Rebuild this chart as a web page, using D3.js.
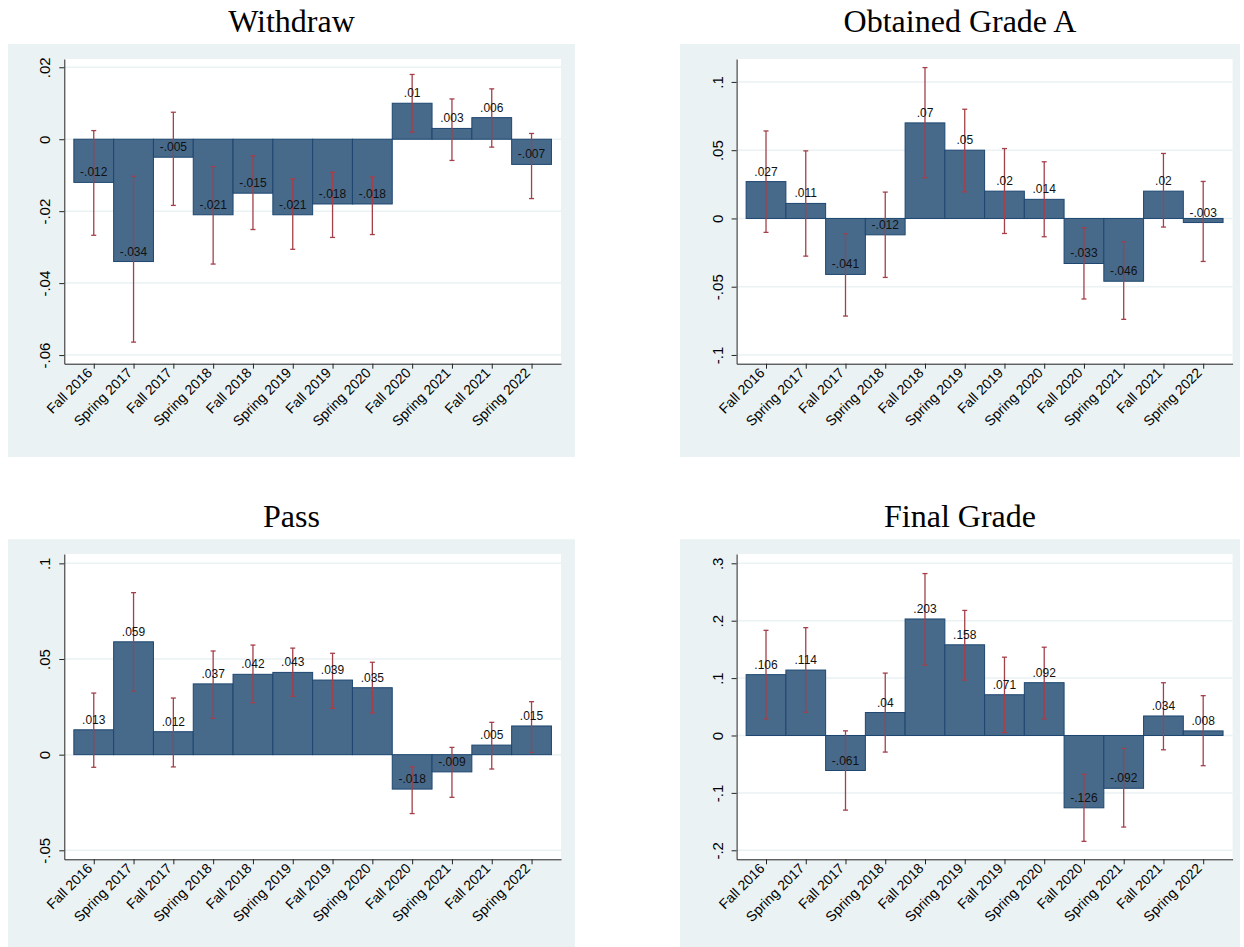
<!DOCTYPE html>
<html>
<head>
<meta charset="utf-8">
<script src="https://cdn.jsdelivr.net/npm/d3@7"></script>
<style>
  body { margin: 0; background: #fff; }
  svg { display: block; }
</style>
</head>
<body>
<div id="chart"></div>
<script>
const terms = ['Fall 2016', 'Spring 2017', 'Fall 2017', 'Spring 2018', 'Fall 2018', 'Spring 2019',
  'Fall 2019', 'Spring 2020', 'Fall 2020', 'Spring 2021', 'Fall 2021', 'Spring 2022'];

// Withdraw
const withdrawEst = [-0.012, -0.034, -0.005, -0.021, -0.015, -0.021, -0.018, -0.018, 0.01, 0.003, 0.006, -0.007];
const withdrawHi = [0.0024, -0.0103, 0.0075, -0.0076, -0.0046, -0.0110, -0.0092, -0.0105, 0.0180, 0.0112, 0.0140, 0.0016];
const withdrawLo = [-0.0267, -0.0564, -0.0184, -0.0347, -0.0251, -0.0306, -0.0273, -0.0265, 0.0020, -0.0059, -0.0022, -0.0165];
const withdrawTicks = [0.02, 0, -0.02, -0.04, -0.06];

// Obtained Grade A
const gradeAEst = [0.027, 0.011, -0.041, -0.012, 0.07, 0.05, 0.02, 0.014, -0.033, -0.046, 0.02, -0.003];
const gradeAHi = [0.0641, 0.0495, -0.0112, 0.0193, 0.1105, 0.0800, 0.0512, 0.0415, -0.0068, -0.0171, 0.0476, 0.0271];
const gradeALo = [-0.0102, -0.0276, -0.0715, -0.0432, 0.0298, 0.0195, -0.0110, -0.0134, -0.0590, -0.0739, -0.0063, -0.0315];
const gradeATicks = [0.1, 0.05, 0, -0.05, -0.1];

// Pass
const passEst = [0.013, 0.059, 0.012, 0.037, 0.042, 0.043, 0.039, 0.035, -0.018, -0.009, 0.005, 0.015];
const passHi = [0.0322, 0.0847, 0.0296, 0.0542, 0.0573, 0.0557, 0.0530, 0.0483, -0.0064, 0.0038, 0.0169, 0.0277];
const passLo = [-0.0066, 0.0333, -0.0064, 0.0190, 0.0272, 0.0305, 0.0242, 0.0218, -0.0308, -0.0223, -0.0075, 0.0012];
const passTicks = [0.1, 0.05, 0, -0.05];

// Final Grade
const finalEst = [0.106, 0.114, -0.061, 0.04, 0.203, 0.158, 0.071, 0.092, -0.126, -0.092, 0.034, 0.008];
const finalHi = [0.1832, 0.1879, 0.0081, 0.1087, 0.2821, 0.2179, 0.1364, 0.1538, -0.0676, -0.0225, 0.0919, 0.0694];
const finalLo = [0.0289, 0.0405, -0.1300, -0.0289, 0.1225, 0.0965, 0.0052, 0.0289, -0.1844, -0.1595, -0.0249, -0.0526];
const finalTicks = [0.3, 0.2, 0.1, 0, -0.1, -0.2];

const panels = [
  { title: 'Withdraw', est: withdrawEst, lo: withdrawLo, hi: withdrawHi, ticks: withdrawTicks,
    domain: [-0.0624, 0.0223], bg: [8, 44, 575, 457], plot: [64.3, 59, 561, 363.7] },
  { title: 'Obtained Grade A', est: gradeAEst, lo: gradeALo, hi: gradeAHi, ticks: gradeATicks,
    domain: [-0.1064, 0.1168], bg: [680, 44, 1240, 457], plot: [736.6, 59, 1232.6, 363.7] },
  { title: 'Pass', est: passEst, lo: passLo, hi: passHi, ticks: passTicks,
    domain: [-0.0547, 0.1049], bg: [8, 539.3, 575, 952], plot: [64.3, 554, 561, 859.3] },
  { title: 'Final Grade', est: finalEst, lo: finalLo, hi: finalHi, ticks: finalTicks,
    domain: [-0.2157, 0.3162], bg: [680, 539.3, 1240, 952], plot: [736.6, 554, 1232.6, 859.3] }
];

// stata style numbers: no leading zero
const fmt = v => {
  if (Math.abs(v) < 1e-9) return '0';
  return String(+v.toFixed(3)).replace(/^(-?)0\./, '$1.');
};

const svg = d3.select('#chart')
  .append('svg')
  .attr('width', 1244)
  .attr('height', 947);

const sans = "'Liberation Sans', Arial, sans-serif";

function drawPanel(p) {
  const g = svg.append('g');

  g.append('rect')
    .attr('x', p.bg[0])
    .attr('y', p.bg[1])
    .attr('width', p.bg[2] - p.bg[0])
    .attr('height', p.bg[3] - p.bg[1])
    .attr('fill', '#eaf2f3');

  g.append('text')
    .attr('x', (p.bg[0] + p.bg[2]) / 2)
    .attr('y', p.bg[1] - 12)
    .attr('text-anchor', 'middle')
    .style('font-family', "'Liberation Serif', 'Times New Roman', serif")
    .style('font-size', '32px')
    .text(p.title);

  const x = d3.scaleLinear()
    .domain([-0.74, terms.length - 1 + 0.74])
    .range([p.plot[0], p.plot[2]]);

  const y = d3.scaleLinear()
    .domain(p.domain)
    .range([p.plot[3], p.plot[1]]);

  g.append('rect')
    .attr('x', p.plot[0])
    .attr('y', p.plot[1])
    .attr('width', p.plot[2] - p.plot[0])
    .attr('height', p.plot[3] - p.plot[1])
    .attr('fill', '#fff');

  g.selectAll('.grid')
    .data(p.ticks)
    .enter()
    .append('line')
    .attr('x1', p.plot[0])
    .attr('x2', p.plot[2])
    .attr('y1', d => y(d))
    .attr('y2', d => y(d))
    .attr('stroke', '#eaf2f3')
    .attr('stroke-width', 1.5);

  g.selectAll('.bar')
    .data(p.est)
    .enter()
    .append('rect')
    .attr('x', (d, i) => x(i - 0.5))
    .attr('width', (d, i) => x(i + 0.5) - x(i - 0.5))
    .attr('y', d => Math.min(y(d), y(0)))
    .attr('height', d => Math.abs(y(d) - y(0)))
    .attr('fill', '#476a8b')
    .attr('stroke', '#1d4670')
    .attr('stroke-width', 1);

  const err = g.selectAll('.err')
    .data(p.est)
    .enter()
    .append('g')
    .attr('stroke', '#a3404a')
    .attr('stroke-width', 1.3);

  err.append('line')
    .attr('x1', (d, i) => x(i))
    .attr('x2', (d, i) => x(i))
    .attr('y1', (d, i) => y(p.lo[i]))
    .attr('y2', (d, i) => y(p.hi[i]));

  err.append('line')
    .attr('x1', (d, i) => x(i) - 2.5)
    .attr('x2', (d, i) => x(i) + 2.5)
    .attr('y1', (d, i) => y(p.lo[i]))
    .attr('y2', (d, i) => y(p.lo[i]));

  err.append('line')
    .attr('x1', (d, i) => x(i) - 2.5)
    .attr('x2', (d, i) => x(i) + 2.5)
    .attr('y1', (d, i) => y(p.hi[i]))
    .attr('y2', (d, i) => y(p.hi[i]));

  g.selectAll('.lbl')
    .data(p.est)
    .enter()
    .append('text')
    .attr('x', (d, i) => x(i))
    .attr('y', d => y(d) - 6)
    .attr('text-anchor', 'middle')
    .style('font-family', sans)
    .style('font-size', '12px')
    .attr('fill', '#111')
    .text(d => fmt(d));

  // axes
  const yAxis = g.append('g')
    .attr('transform', `translate(${p.plot[0]},0)`)
    .call(d3.axisLeft(y).tickValues(p.ticks).tickSize(5).tickSizeOuter(0).tickFormat(fmt));

  yAxis.selectAll('text')
    .attr('x', 0)
    .attr('y', -14)
    .attr('dy', 0)
    .attr('transform', 'rotate(-90)')
    .attr('text-anchor', 'middle')
    .attr('fill', '#000')
    .style('font-family', sans)
    .style('font-size', '15px');

  const xAxis = g.append('g')
    .attr('transform', `translate(0,${p.plot[3]})`)
    .call(d3.axisBottom(x).tickValues(d3.range(terms.length)).tickSize(5).tickSizeOuter(0)
      .tickFormat(i => terms[i]));

  xAxis.selectAll('text')
    .attr('x', 0)
    .attr('y', 0)
    .attr('dy', 0)
    .attr('transform', 'translate(-1,10) rotate(-45)')
    .attr('text-anchor', 'end')
    .attr('fill', '#000')
    .style('font-family', sans)
    .style('font-size', '14px');

  g.selectAll('.domain, .tick line')
    .attr('stroke', '#222')
    .attr('stroke-width', 1);
}

panels.forEach(p => drawPanel(p));
</script>
</body>
</html>
